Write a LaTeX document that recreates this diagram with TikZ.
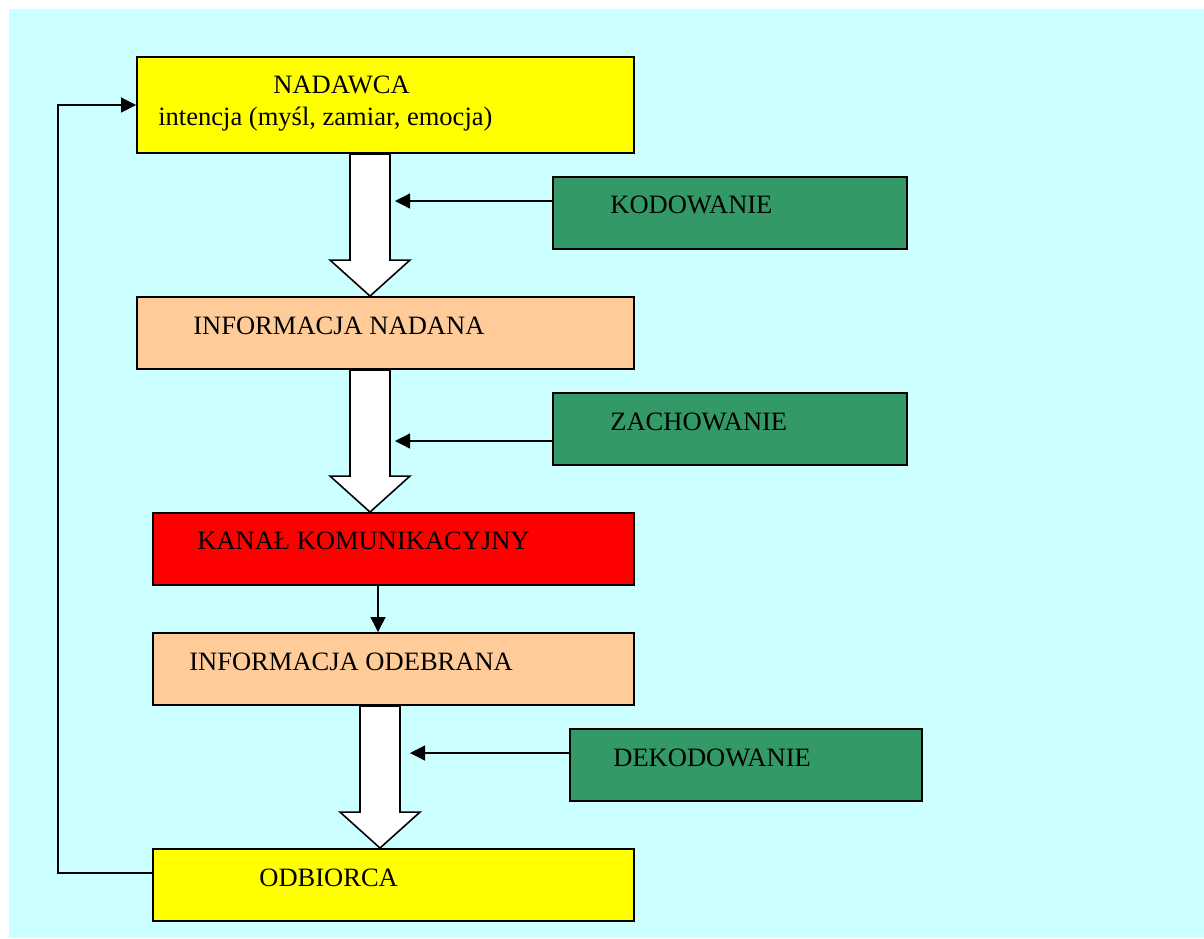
\documentclass[tikz,border=0pt]{standalone}
\usepackage{fontspec}
\setmainfont{Liberation Serif}
\usepackage{tikz}
\usetikzlibrary{arrows.meta}
\usetikzlibrary{calc}
\definecolor{bgcyan}{HTML}{CCFFFF}
\definecolor{peach}{HTML}{FFCC99}
\definecolor{codegreen}{HTML}{339966}
\definecolor{brightyellow}{HTML}{FFFF00}
\tikzstyle{box} = [rectangle, draw=black, line width=1.1pt, inner sep=0pt]
\tikzstyle{endpoint} = [box, minimum width=9.94cm, minimum height=1.44cm, fill=brightyellow]
\tikzstyle{info} = [box, minimum height=1.44cm, fill=peach]
\tikzstyle{coding} = [box, minimum width=7.08cm, minimum height=1.44cm, fill=codegreen]
\tikzstyle{txt} = [inner sep=0pt, anchor=base west, font=\fontsize{15.1}{18}\selectfont]
\tikzstyle{arrow} = [line width=0.75pt, -{Triangle[length=0.3cm, width=0.3cm]}]
\tikzstyle{hollow} = [draw=black, line width=0.9pt, fill=white]

\begin{document}
\begin{tikzpicture}[x=0.02cm, y=-0.02cm]
        \useasboundingbox (0,0) rectangle (1204,938);
        \fill[bgcyan] (9,9) rectangle (1204,938);

        \node (nad) [endpoint, minimum height=1.92cm] at (385.5,105) {};
        \node (kod) [coding] at (730,213) {};
        \node (infn) [info, minimum width=9.94cm] at (385.5,333) {};
        \node (zach) [coding] at (730,429) {};
        \node (kan) [box, minimum width=9.62cm, minimum height=1.44cm, fill=red] at (393.5,549) {};
        \node (infd) [info, minimum width=9.62cm] at (393.5,669) {};
        \node (dek) [coding, minimum width=7.04cm] at (746,765) {};
        \node (odb) [endpoint, minimum width=9.62cm] at (393.5,885) {};

        \node [txt] at (273,93) {NADAWCA};
        \node [txt] at (158,125) {intencja (myśl, zamiar, emocja)};
        \node [txt] at (610,213) {KODOWANIE};
        \node [txt] at (193,334) {INFORMACJA NADANA};
        \node [txt] at (610,430) {ZACHOWANIE};
        \node [txt] at (197,549) {KANAŁ KOMUNIKACYJNY};
        \node [txt] at (189,670) {INFORMACJA ODEBRANA};
        \node [txt] at (613,766) {DEKODOWANIE};
        \node [txt] at (259,886) {ODBIORCA};

        % white block arrows between the boxes
        \foreach \a/\b/\cx in {nad/infn/370, infn/kan/370, infd/odb/380}
            \draw [hollow] let \p1=(\a.south), \p2=(\b.north) in
                (\cx*0.02cm-0.4cm,\y1) -- (\cx*0.02cm-0.4cm,\y2+0.72cm) -- (\cx*0.02cm-0.8cm,\y2+0.72cm)
                -- (\cx*0.02cm,\y2) -- (\cx*0.02cm+0.8cm,\y2+0.72cm) -- (\cx*0.02cm+0.4cm,\y2+0.72cm)
                -- (\cx*0.02cm+0.4cm,\y1) -- cycle;

        \coordinate (t1) at (395,201);
        \coordinate (t2) at (395,441);
        \coordinate (t3) at (410,753);
        \coordinate (k) at (378,0);
        \coordinate (fb) at (58,873);

        \draw [arrow] (t1 -| kod.west) -- (t1);
        \draw [arrow] (t2 -| zach.west) -- (t2);
        \draw [arrow] (t3 -| dek.west) -- (t3);
        \draw [arrow] (k |- kan.south) -- (k |- infd.north);
        \draw [arrow] (fb -| odb.west) -- (fb) |- (nad.west);
    \end{tikzpicture}
\end{document}
